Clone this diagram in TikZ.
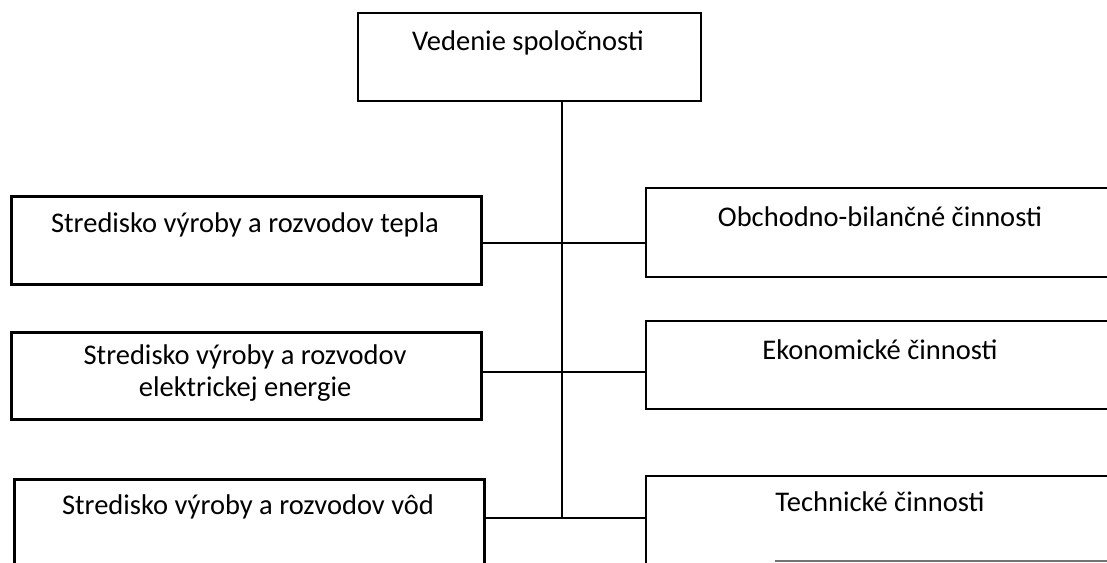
\documentclass[tikz,border=0pt]{standalone}
\usepackage{fontspec}
\setmainfont{Carlito}
\begin{document}
\begin{tikzpicture}[x=1pt,y=-1pt,
  box/.style={draw, line width=1.8pt, inner sep=0pt, anchor=north west},
  thickbox/.style={box, line width=3.4pt},
  lbl/.style={font=\fontsize{28.5}{32}\selectfont, align=center, inner sep=0pt},
  conn/.style={line width=1.8pt}]
\useasboundingbox (0,0) rectangle (1107,562);
\clip (0,0) rectangle (1107,562);
% boxes
\node[box, minimum width=343pt, minimum height=88pt] (top) at (357,12) {};
\node[thickbox, minimum width=470pt, minimum height=88pt] (l1) at (10,195) {};
\node[thickbox, minimum width=470pt, minimum height=87pt] (l2) at (10,331) {};
\node[thickbox, minimum width=470pt, minimum height=120pt] (l3) at (13,478) {};
\node[box, minimum width=470pt, minimum height=89pt] (r1) at (645,187) {};
\node[box, minimum width=470pt, minimum height=88pt] (r2) at (645,320) {};
\node[box, minimum width=470pt, minimum height=120pt] (r3) at (645,475) {};
% labels
\node[lbl] (ttop) at (528,43) {Vedenie spoločnosti};
\node[lbl] (tl1) at (245,225) {Stredisko výroby a rozvodov tepla};
\node[lbl] (tl2) at (245,373) {Stredisko výroby a rozvodov\\elektrickej energie};
\node[lbl] (tl3) at (248,507) {Stredisko výroby a rozvodov vôd};
\node[lbl] (tr1) at (880,217) {Obchodno-bilančné činnosti};
\node[lbl] (tr2) at (880,350) {Ekonomické činnosti};
\node[lbl] (tr3) at (880,502) {Technické činnosti};
% connectors
\coordinate (j1) at (562,243);
\coordinate (j2) at (562,372);
\coordinate (j3) at (562,518);
\draw[conn] (j3 |- top.south) -- (j3);
\draw[conn] (l1.east |- j1) -- (j1) -- (r1.west |- j1);
\draw[conn] (l2.east |- j2) -- (j2) -- (r2.west |- j2);
\draw[conn] (l3.east |- j3) -- (j3) -- (r3.west |- j3);
% partly visible bottom edge of the last right box
\coordinate (r3b) at (775,561);
\draw[line width=1.5pt, black!55] (r3b) -- (r3b -| r3.east);
\end{tikzpicture}
\end{document}
